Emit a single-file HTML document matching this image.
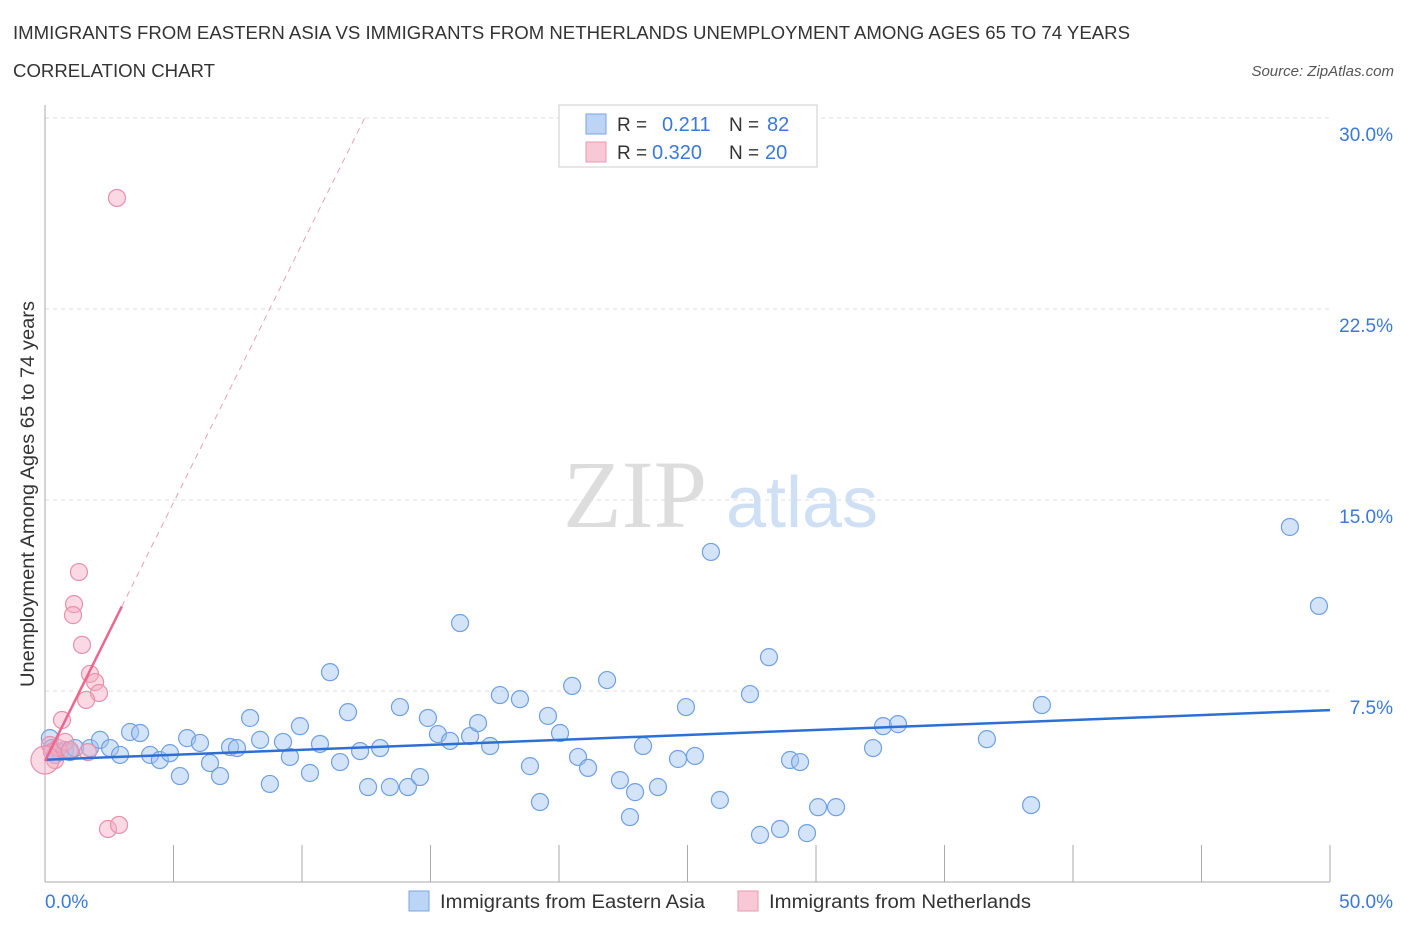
<!DOCTYPE html>
<html><head><meta charset="utf-8"><style>
body{margin:0;background:#fff;font-family:"Liberation Sans",sans-serif}
</style></head><body>
<svg id="c" width="1406" height="930" xmlns="http://www.w3.org/2000/svg" font-family="Liberation Sans, sans-serif">
<text x="13" y="39" font-size="18" fill="#333" textLength="1117" lengthAdjust="spacingAndGlyphs">IMMIGRANTS FROM EASTERN ASIA VS IMMIGRANTS FROM NETHERLANDS UNEMPLOYMENT AMONG AGES 65 TO 74 YEARS</text>
<text x="13" y="77" font-size="18" fill="#333" textLength="202" lengthAdjust="spacingAndGlyphs">CORRELATION CHART</text>
<text x="1394" y="76" font-size="15" fill="#555" font-style="italic" text-anchor="end">Source: ZipAtlas.com</text>
<text x="635" y="527" font-size="96" fill="#ddd" font-family="Liberation Serif, serif" text-anchor="middle">ZIP</text>
<text x="802" y="527" font-size="72" fill="#cfe0f5" text-anchor="middle">atlas</text>
<g id="grid"></g>
<g id="pts"></g>
<text transform="translate(34,494) rotate(-90)" font-size="19" fill="#333" text-anchor="middle" textLength="386" lengthAdjust="spacingAndGlyphs">Unemployment Among Ages 65 to 74 years</text>
<text x="45" y="908" font-size="19" fill="#3b78d8">0.0%</text>
<text x="1393" y="908" font-size="19" fill="#3b78d8" text-anchor="end">50.0%</text>
<g>
<rect x="559" y="105" width="258" height="62" fill="#fff" stroke="#ccc"/>
<rect x="586" y="114" width="20" height="20" fill="#bcd4f5" stroke="#7aa6e0"/>
<rect x="586" y="142" width="20" height="20" fill="#f9c8d6" stroke="#e99ab2"/>
<text x="617" y="131" font-size="19" fill="#333">R = </text><text x="662" y="131" font-size="20" fill="#3b78d8">0.211</text>
<text x="729" y="131" font-size="19" fill="#333">N = </text><text x="767" y="131" font-size="20" fill="#3b78d8">82</text>
<text x="617" y="159" font-size="19" fill="#333">R = </text><text x="652" y="159" font-size="20" fill="#3b78d8">0.320</text>
<text x="729" y="159" font-size="19" fill="#333">N = </text><text x="765" y="159" font-size="20" fill="#3b78d8">20</text>
</g>
<g>
<rect x="409" y="891" width="20" height="20" fill="#bcd4f5" stroke="#7aa6e0"/>
<text x="440" y="908" font-size="19" fill="#333" textLength="265" lengthAdjust="spacingAndGlyphs">Immigrants from Eastern Asia</text>
<rect x="738" y="891" width="20" height="20" fill="#f9c8d6" stroke="#e99ab2"/>
<text x="769" y="908" font-size="19" fill="#333" textLength="262" lengthAdjust="spacingAndGlyphs">Immigrants from Netherlands</text>
</g>
</svg>
<script>
const blueX=[0.19,0.27,0.39,0.58,0.78,0.97,1.17,1.75,2.14,2.53,2.92,3.31,3.70,4.09,4.47,4.86,5.25,5.53,6.03,6.42,6.81,7.20,7.47,7.98,8.37,8.75,9.26,9.53,9.92,10.31,10.70,11.09,11.48,11.79,12.26,12.57,13.04,13.42,13.81,14.12,14.59,14.90,15.29,15.76,16.15,16.54,16.85,17.32,17.70,18.48,18.87,19.26,19.57,20.04,20.51,20.74,21.13,21.87,22.37,22.76,22.96,23.27,23.85,24.63,24.94,25.29,25.91,26.26,27.43,27.82,28.17,28.60,28.99,29.38,29.65,30.08,30.78,32.22,32.61,33.19,36.65,38.37,38.79,48.44,49.57];
const blueY=[5.65,5.26,4.99,5.10,5.18,5.10,5.26,5.26,5.58,5.26,4.99,5.89,5.85,4.99,4.79,5.06,4.16,5.65,5.46,4.67,4.16,5.30,5.26,6.44,5.58,3.85,5.50,4.91,6.12,4.28,5.42,8.24,4.71,6.67,5.14,3.73,5.26,3.73,6.87,3.73,4.12,6.44,5.81,5.54,10.17,5.73,6.24,5.34,7.34,7.18,4.55,3.14,6.52,5.85,7.70,4.91,4.48,7.93,4.00,2.55,3.53,5.34,3.73,4.83,6.87,4.95,12.96,3.22,7.38,1.85,8.83,2.08,4.79,4.71,1.92,2.94,2.94,5.26,6.12,6.20,5.61,3.02,6.95,13.94,10.84];
const pinkX=[0.19,0.27,0.39,0.51,0.66,0.78,0.97,1.32,1.13,1.09,1.44,1.75,1.95,2.10,1.60,1.67,2.45,2.88,2.80,0];
const pinkY=[5.38,5.10,4.79,5.26,6.36,5.50,5.18,12.17,10.91,10.48,9.31,8.17,7.85,7.42,7.15,5.10,2.08,2.24,26.86,4.79];
const yTicks=[7.5,15,22.5,30];
const yTickLabels=["7.5%","15.0%","22.5%","30.0%"];
const blueTrend=[4.8,0.039];   // intercept, slope
const pinkTrend=[4.75,2.03];
const NS="http://www.w3.org/2000/svg";
const X0=45,X1=1330,Y0=882,Y1=118;
const sx=v=>X0+(v/50)*(X1-X0), sy=v=>Y0-(v/30)*(Y0-Y1);
function mk(tag,a,parent){const e=document.createElementNS(NS,tag);for(const k in a)e.setAttribute(k,a[k]);parent.appendChild(e);return e;}
const grid=document.getElementById('grid'), pts=document.getElementById('pts');
yTicks.forEach((t,i)=>{
 const l=mk('line',{x1:X0,x2:X1,y1:sy(t),y2:sy(t),stroke:'#ddd','stroke-dasharray':'4,4'},grid);
 
 
 const tx=mk('text',{x:1393,y:sy(t)+23,'font-size':19,fill:'#3b78d8','text-anchor':'end'},grid);
 tx.textContent=yTickLabels[i];
 
 
});
const ax=mk('line',{x1:X0,x2:X0,y1:105,y2:Y0,stroke:'#aaa'},grid);


const bx=mk('line',{x1:X0,x2:X1,y1:Y0,y2:Y0,stroke:'#aaa'},grid);


for(let i=0;i<=10;i++){const t=mk('line',{x1:sx(i*5),x2:sx(i*5),y1:845,y2:Y0,stroke:'#aaa'},grid);
 
 }
blueX.forEach((x,i)=>{const c=mk('circle',{cx:sx(x),cy:sy(blueY[i]),r:8.5,fill:'rgba(160,195,240,0.45)',stroke:'#6fa0e0','stroke-width':1.2},pts);
 
 });
pinkX.forEach((x,i)=>{const c=mk('circle',{cx:sx(x),cy:sy(pinkY[i]),r:i==pinkX.length-1?14:8.5,fill:'rgba(245,170,195,0.45)',stroke:'#e890aa','stroke-width':1.2},pts);
 
 });
const bt=mk('line',{x1:sx(0),y1:sy(blueTrend[0]),x2:sx(50),y2:sy(blueTrend[0]+blueTrend[1]*50),stroke:'#2c6fd6','stroke-width':2.5},pts);


const pxEnd=2.99, pxDash=(30-pinkTrend[0])/pinkTrend[1];
const pt=mk('line',{x1:sx(0),y1:sy(pinkTrend[0]),x2:sx(pxEnd),y2:sy(pinkTrend[0]+pinkTrend[1]*pxEnd),stroke:'#e8688f','stroke-width':2.5},pts);


const pd=mk('line',{x1:sx(pxEnd),y1:sy(pinkTrend[0]+pinkTrend[1]*pxEnd),x2:sx(pxDash),y2:sy(30),stroke:'#e8a0b5','stroke-width':1,'stroke-dasharray':'6,5'},pts);


</script>
</body></html>
